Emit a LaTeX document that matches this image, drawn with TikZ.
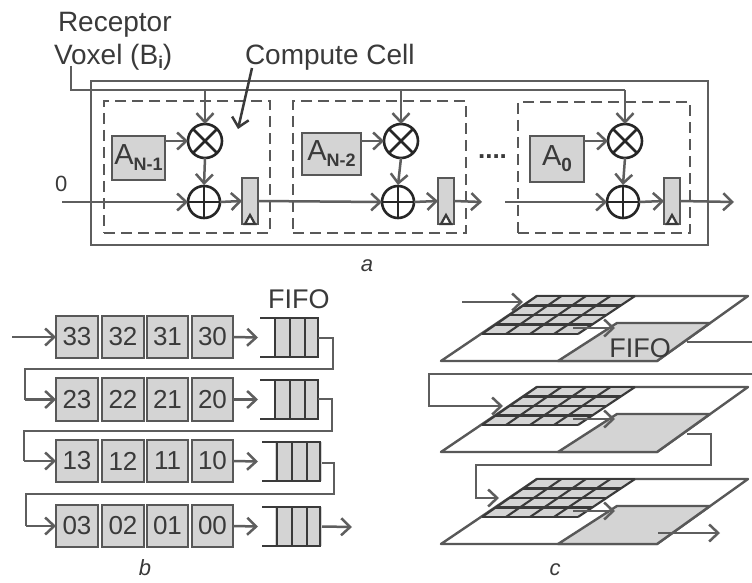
\documentclass[tikz,border=0pt]{standalone}
\usepackage{fontspec}
\setmainfont{Liberation Sans}
\usetikzlibrary{arrows.meta,calc}
\definecolor{ln}{HTML}{5E5E5E}
\definecolor{dk}{HTML}{3A3A3A}
\definecolor{gf}{HTML}{D4D4D4}
\newcommand{\fsz}[1]{\fontsize{#1}{#1}\selectfont}
\newcommand{\bx}[7][]{\node[boxbase,#1,minimum width={(#5-#3)*1pt},minimum height={(#6-#4)*1pt}] (#2) at ({(#3+#5)/2},{(#4+#6)/2}) {#7};}
\newcommand{\Asub}[2]{\fsz{29}A\raisebox{-6pt}{\fsz{#2}#1}}
\tikzset{
  boxbase/.style={rectangle,inner sep=0pt,outer sep=0pt,line width=2.6pt},
  greybox/.style={draw=dk!85!white,fill=gf,text=dk},
  cellbox/.style={draw=dk!85!white,dash pattern=on 11pt off 6pt,line width=2.6pt},
  outerbox/.style={draw=ln,line width=2.6pt},
  cnct/.style={draw=ln,line width=2.5pt},
  arr/.style={cnct,-{Straight Barb[length=9pt,width=17pt,line width=2.5pt]}},
  opcircle/.style={circle,draw=black!85,line width=2.6pt,inner sep=0pt,outer sep=0pt,fill=white},
  lab/.style={text=dk,inner sep=0pt,outer sep=0pt,anchor=base west},
  captxt/.style={text=dk,inner sep=0pt,outer sep=0pt,font=\fsz{22}\itshape},
  plane/.style={draw=dk!85!white,line width=2.4pt,line join=round},
  gridline/.style={draw=dk,line width=2.1pt},
  regbox/.style={greybox,line width=2.4pt}
}
\begin{document}
\begin{tikzpicture}[x=1pt,y=-1pt]
\useasboundingbox (0,0) rectangle (752,583);
\fill[white] (0,0) rectangle (752,583);

% ---------- panel a
\bx[outerbox]{outer}{91}{81}{708}{245}{}
\bx[cellbox]{cellA}{104}{101}{270}{233}{}
\bx[cellbox]{cellB}{293}{101}{466}{233}{}
\bx[cellbox]{cellC}{518}{102}{690}{233}{}

\node[lab,font=\fsz{28}] (recep) at (58,32) {Receptor};
\node[lab,font=\fsz{28}] (voxel) at (54,65) {Voxel (B\raisebox{-4pt}{\fsz{17}\bfseries i})};
\node[lab,font=\fsz{28}] (ccell) at (245,65) {Compute Cell};
\node[lab,font=\fsz{22}] (zero) at (55,191) {0};
\node[captxt] (capa) at (367,266) {a};
\node[text=dk,inner sep=0pt,font=\fsz{26}\bfseries] (dots) at (492.5,157) {....};

\bx[greybox]{aA}{112}{136}{165}{180}{\Asub{\bfseries N-1}{18}}
\bx[greybox]{aB}{302}{133}{361}{175}{\Asub{\bfseries N-2}{18}}
\bx[greybox]{aC}{530}{136}{584}{182}{\Asub{\bfseries 0}{19}}

\foreach \n/\mx/\ax/\rx in {A/205/204/242,B/401/398/438,C/625/623/664}{
  \node[opcircle,minimum size=34pt] (mul\n) at (\mx,141) {};
  \draw[black!85,line width=2.6pt] (mul\n.north west) -- (mul\n.south east) (mul\n.north east) -- (mul\n.south west);
  \node[opcircle,minimum size=32pt] (add\n) at (\ax,202) {};
  \draw[black!85,line width=2.6pt] (add\n.north) -- (add\n.south) (add\n.west) -- (add\n.east);
  \bx[regbox]{reg\n}{\rx}{178}{\rx+16}{224}{}
  \draw[dk,line width=2.2pt,fill=white] ($(reg\n.south)+(-5,0)$) -- ($(reg\n.south)+(0,-9)$) -- ($(reg\n.south)+(5,0)$) -- cycle;
  \draw[arr] (mul\n.south) -- (\ax,185);
  \draw[arr] (add\n.east) -- (reg\n.west);
}
\draw[arr] (aA.east |- mulA.west) -- (mulA.west);
\draw[arr] (aB.east |- mulB.west) -- (mulB.west);
\draw[arr] (aC.east |- mulC.west) -- (mulC.west);

\coordinate (vxl) at (71,66);
\coordinate (vxc) at (71,90);
\coordinate (vxe) at (625,90);
\coordinate (inA) at (62,202);
\coordinate (outB) at (482,202);
\coordinate (inC) at (505,202);
\coordinate (outC) at (734,202);
\coordinate (ccS) at (252,68);
\coordinate (ccE) at (238,129);
\draw[cnct] (vxl) -- (vxc) -- (vxe);
\draw[arr] (mulA.north |- vxc) -- (mulA.north);
\draw[arr] (mulB.north |- vxc) -- (mulB.north);
\draw[arr] (vxe) -- (mulC.north);
\draw[arr] (inA) -- (addA.west);
\draw[arr] (regA.east) -- (addB.west);
\draw[arr] (regB.east) -- (outB);
\draw[arr] (inC) -- (addC.west);
\draw[arr] (regC.east) -- (outC);
\draw[arr,draw=dk] (ccS) -- (ccE);

% ---------- panel b
\node[lab,font=\fsz{27}] (fifoB) at (268,308) {FIFO};
\node[captxt] (capb) at (145,568) {b};
\foreach \rw/\ya/\yb/\yfa/\yfb/\fx in {3/316/358/318/357/0,2/378/421/380/419/0,1/440/482/442/481/2,0/505/547/507/546/2}{
  \foreach \cl/\xa/\xb in {3/56/98,2/102/144,1/147/188,0/192/233}{
    \bx[greybox,font=\fsz{26}]{b\rw\cl}{\xa}{\ya}{\xb}{\yb}{\rw\cl}
  }
  \bx[fill=gf]{ff\rw}{275+\fx}{\yfa}{318+\fx}{\yfb}{}
  \draw[dk,line width=2.6pt] (260+\fx,\yfa) -- (318+\fx,\yfa) -- (318+\fx,\yfb) -- (260+\fx,\yfb)
     (275+\fx,\yfa) -- (275+\fx,\yfb) (290+\fx,\yfa) -- (290+\fx,\yfb) (305+\fx,\yfa) -- (305+\fx,\yfb);
  \coordinate (ffin\rw) at (258,{(\yfa+\yfb)/2});
  \draw[arr] (b\rw0.east) -- (ffin\rw);
}
\coordinate (bin) at (12,337);
\draw[arr] (bin) -- (b33.west);
\coordinate (p31) at (333,338); \coordinate (p32) at (333,369); \coordinate (p33) at (25,369); \coordinate (p34) at (25,399.5);
\draw[cnct] (ff3.east |- p31) -- (p31) -- (p32) -- (p33) -- (p34);
\draw[arr] (p34) -- (b23.west);
\coordinate (p21) at (332,399); \coordinate (p22) at (332,431); \coordinate (p23) at (24,431); \coordinate (p24) at (24,461);
\draw[cnct] (ff2.east |- p21) -- (p21) -- (p22) -- (p23) -- (p24);
\draw[arr] (p24) -- (b13.west);
\coordinate (p11) at (334,463); \coordinate (p12) at (334,494); \coordinate (p13) at (26,494); \coordinate (p14) at (26,526);
\draw[cnct] (ff1.east |- p11) -- (p11) -- (p12) -- (p13) -- (p14);
\draw[arr] (p14) -- (b03.west);
\coordinate (bout) at (352,527);
\draw[arr] (ff0.east) -- (bout);

% ---------- panel c
\foreach \lv/\dd in {1/0,2/91,3/183}{
  \begin{scope}[shift={(0,\dd)}]
    \coordinate (pBL\lv) at (441,361); \coordinate (pBR\lv) at (657,361);
    \coordinate (pTR\lv) at (748,296); \coordinate (pTL\lv) at (537,296);
    \coordinate (fBL\lv) at (558,361); \coordinate (fTL\lv) at (617,323); \coordinate (fTR\lv) at (710,323);
    \coordinate (gTL\lv) at (537,296); \coordinate (gTR\lv) at (635,296);
    \coordinate (gBR\lv) at (578,334); \coordinate (gBL\lv) at (482,334);
    \coordinate (fIn\lv) at (615,328); \coordinate (gOut\lv) at (573,328);
  \end{scope}
  \draw[plane] (pBL\lv) -- (pTL\lv) -- (pTR\lv) -- (pBR\lv) -- cycle;
  \draw[plane,fill=gf] (fBL\lv) -- (fTL\lv) -- (fTR\lv) -- (pBR\lv) -- cycle;
  \fill[gf] (gTL\lv) -- (gTR\lv) -- (gBR\lv) -- (gBL\lv) -- cycle;
  \foreach \tt in {0,0.25,0.5,0.75,1}{
    \draw[gridline] ($(gTL\lv)!\tt!(gBL\lv)$) -- ($(gTR\lv)!\tt!(gBR\lv)$);
    \draw[gridline] ($(gTL\lv)!\tt!(gTR\lv)$) -- ($(gBL\lv)!\tt!(gBR\lv)$);
  }
  \draw[arr] (gOut\lv) -- (fIn\lv);
}
\node[text=dk,inner sep=0pt,outer sep=0pt,font=\fsz{27},anchor=base] (fifoC) at (640,357) {FIFO};
\node[captxt] (capc) at (555,570) {c};

\coordinate (cin) at (462,302); \coordinate (cinE) at (523,302);
\draw[arr] (cin) -- (cinE);
\coordinate (c1a) at (687,342); \coordinate (c1b) at (752,342);
\draw[cnct] (c1a) -- (c1b);
\coordinate (c1c) at (752,374); \coordinate (c1d) at (429,374); \coordinate (c1e) at (429,406); \coordinate (c1f) at (503,406);
\draw[arr] (c1c) -- (c1d) -- (c1e) -- (c1f);
\coordinate (c2a) at (687,434); \coordinate (c2b) at (711,434); \coordinate (c2c) at (711,465);
\coordinate (c2d) at (476,465); \coordinate (c2e) at (476,498); \coordinate (c2f) at (499,498);
\draw[arr] (c2a) -- (c2b) -- (c2c) -- (c2d) -- (c2e) -- (c2f);
\coordinate (c3a) at (658,533); \coordinate (c3b) at (720,533);
\draw[arr] (c3a) -- (c3b);
\end{tikzpicture}
\end{document}
